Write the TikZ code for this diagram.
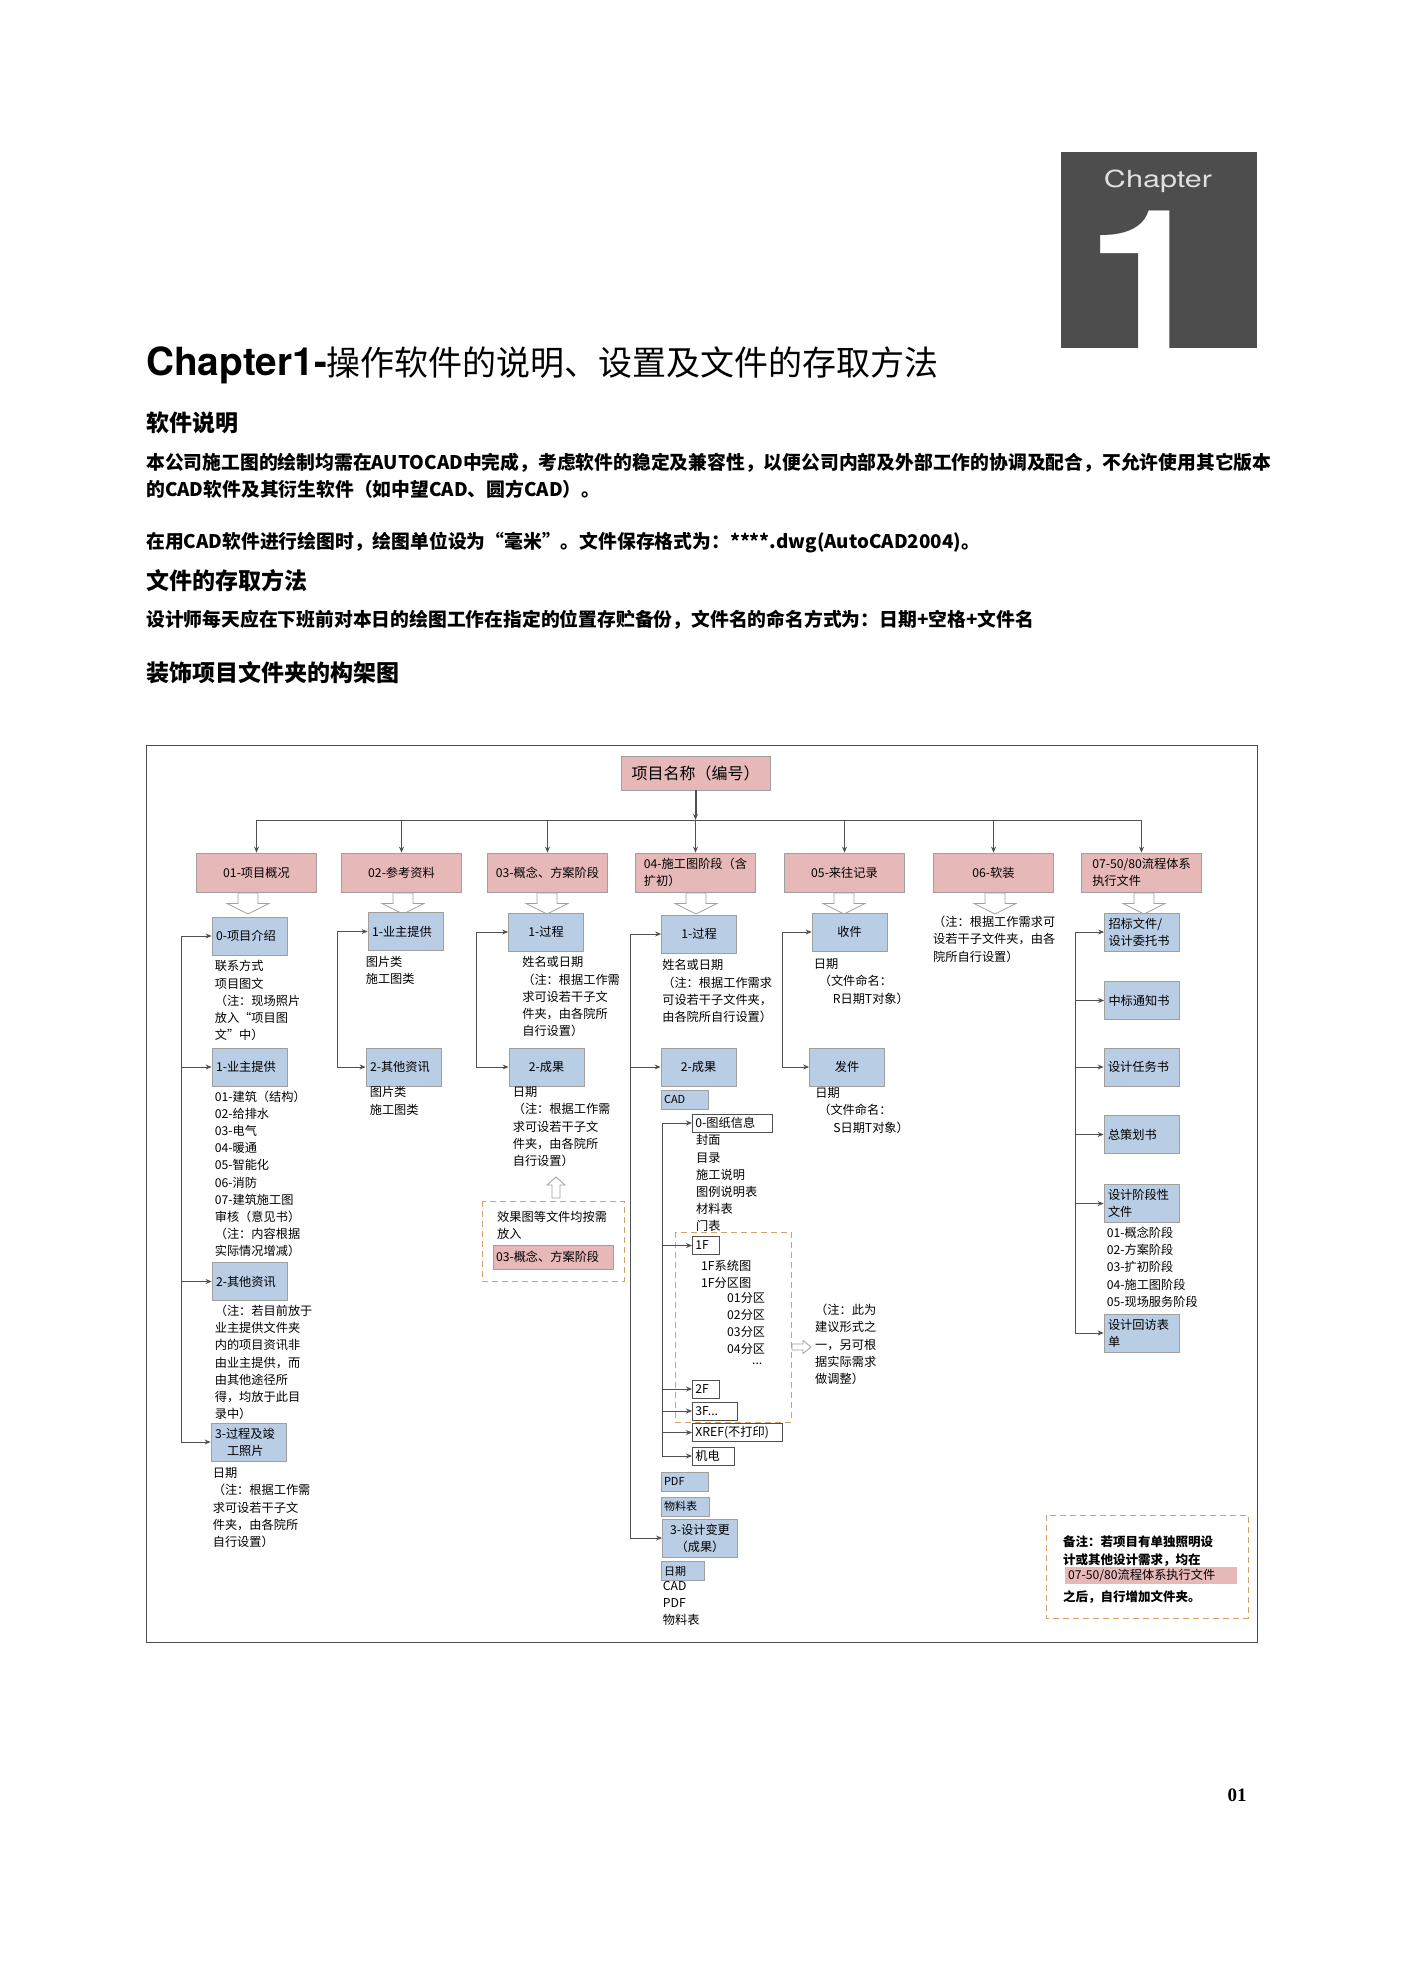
\documentclass[tikz,border=0pt]{standalone}
\usepackage{fontspec}
\usepackage{graphicx}
\setmainfont{Noto Sans CJK SC}
\newfontfamily\chaptersans{TeX Gyre Heros}
\newfontfamily\pagenumserif{Liberation Serif}
\usepackage{tikz}
\usetikzlibrary{positioning,arrows.meta,calc}
\definecolor{chaptergray}{RGB}{77,77,77}
\definecolor{folderpink}{RGB}{230,185,184}
\definecolor{folderblue}{RGB}{185,205,229}
\definecolor{edgegray}{RGB}{160,160,160}
\definecolor{linkgray}{RGB}{80,80,80}
\definecolor{notetan}{RGB}{214,160,102}
\colorlet{framegray}{black!70}
\newcommand\dgmfont{\fontsize{12.2}{17.2}\selectfont}
\newcommand\tagfont{\fontsize{11}{13}\selectfont}
\newcommand\headfont{\bfseries\fontsize{23}{26}\selectfont}
\newcommand\bodyfont{\bfseries\fontsize{18.8}{27}\selectfont}
\begin{document}
\begin{tikzpicture}[x=1pt,y=-1pt,every node/.style={font=\dgmfont,inner sep=0pt},
  topbox/.style={fill=folderpink,draw=edgegray,line width=.8pt,minimum width=120pt,minimum height=39pt},
  bluebox/.style={fill=folderblue,draw=edgegray,line width=.8pt,minimum width=75pt,minimum height=38pt},
  leftbox/.style={bluebox,text width=67pt,align=left},
  tagbox/.style={fill=folderblue,draw=edgegray,line width=.6pt,minimum height=19pt,inner xsep=3pt,text width=#1,align=left,font=\tagfont},
  filebox/.style={fill=white,draw=linkgray,line width=.8pt,minimum height=18pt,inner xsep=3pt,text width=#1,align=left,anchor=west},
  memo/.style={align=left},
  wire/.style={draw=linkgray,line width=1pt},
  link/.style={wire,-{Stealth[length=6pt,width=5pt]}},
  hollowline/.style={draw=edgegray,fill=white,line width=.8pt},
  blockdown/.pic={\path[hollowline] (-10,-10.5) -- (10,-10.5) -- (10,0) -- (21,0) -- (0,10.5) -- (-21,0) -- (-10,0) -- cycle;},
  blockup/.pic={\path[hollowline] (-4,10.5) -- (4,10.5) -- (4,-2.5) -- (9,-2.5) -- (0,-10.5) -- (-9,-2.5) -- (-4,-2.5) -- cycle;},
  blockright/.pic={\path[hollowline] (-9.5,-3) -- (1.5,-3) -- (1.5,-6.5) -- (9.5,0) -- (1.5,6.5) -- (1.5,3) -- (-9.5,3) -- cycle;},
  dashbox/.style={draw=notetan,line width=1pt,dash pattern=on 6pt off 4pt}]
  \useasboundingbox (0,0) rectangle (1403,1985);
  % page header
  \node[fill=chaptergray,minimum width=196pt,minimum height=196pt] (chapbox) at (1159,250) {};
  \node[font=\chaptersans\fontsize{23.5}{26}\selectfont,text=white!88!black] (chapword) at (1158,181) {\scalebox{1.3}[1]{Chapter}};
  \node[font=\chaptersans\bfseries\fontsize{194}{194}\selectfont,text=white,anchor=base] (chapnum) at (1148,348) {\scalebox{1.15}[1]{1}};
  \node[anchor=base west] (title) at (146,375) {{\chaptersans\bfseries\fontsize{38.8}{40}\selectfont Chapter1-}{\fontsize{34}{36}\selectfont 操作软件的说明、设置及文件的存取方法}};
  \node[font=\headfont,anchor=base west] (softhead) at (146,431) {软件说明};
  \node[font=\bodyfont,align=left,anchor=north west] (softtext) at (146,452.5) {本公司施工图的绘制均需在AUTOCAD中完成，考虑软件的稳定及兼容性，以便公司内部及外部工作的协调及配合，不允许使用其它版本\\的CAD软件及其衍生软件（如中望CAD、圆方CAD）。};
  \node[font=\bodyfont,anchor=base west] (unittext) at (146,548) {在用CAD软件进行绘图时，绘图单位设为“毫米”。文件保存格式为：****.dwg(AutoCAD2004)。};
  \node[font=\headfont,anchor=base west] (savehead) at (146,589) {文件的存取方法};
  \node[font=\bodyfont,anchor=base west] (savetext) at (146,626) {设计师每天应在下班前对本日的绘图工作在指定的位置存贮备份，文件名的命名方式为：日期+空格+文件名};
  \node[font=\headfont,anchor=base west] (treehead) at (146,681) {装饰项目文件夹的构架图};
  \node[font=\pagenumserif\bfseries\fontsize{19}{20}\selectfont,anchor=base] (pagenum) at (1237,1801) {01};
  % diagram frame
  \draw[framegray,line width=1pt] (146,745) rectangle (1257,1642);
  \node[fill=folderpink,draw=edgegray,line width=.8pt,minimum width=149pt,minimum height=34pt,font=\fontsize{16}{18}\selectfont] (root) at (695.5,773) {项目名称（编号）};
  \coordinate (bus) at (0,820);
  % first level folders
  \node[topbox] (p01) at (256.5,872.5) {01-项目概况};
  \node[topbox] (p02) at (401.5,872.5) {02-参考资料};
  \node[topbox] (p03) at (547.5,872.5) {03-概念、方案阶段};
  \node[topbox,align=left] (p04) at (695.5,872.5) {04-施工图阶段（含\\扩初）};
  \node[topbox] (p05) at (844.5,872.5) {05-来往记录};
  \node[topbox] (p06) at (993.5,872.5) {06-软装};
  \node[topbox,align=left] (p07) at (1141.5,872.5) {07-50/80流程体系\\执行文件};
  \pic (h01) at (248,903.5) {blockdown};
  \pic (h02) at (403,903.5) {blockdown};
  \pic (h03) at (547,903.5) {blockdown};
  \pic (h04) at (696,903.5) {blockdown};
  \pic (h05) at (844,903.5) {blockdown};
  \pic (h06) at (995,903.5) {blockdown};
  \pic (h07) at (1144,903.5) {blockdown};
  % 01
  \node[leftbox] (intro) at (249.5,936) {0-项目介绍};
  \node[memo,below right=5pt and 3pt of intro.south west] (introtext) {联系方式\\项目图文\\（注：现场照片\\放入“项目图\\文”中）};
  \node[leftbox] (own1) at (249.5,1067) {1-业主提供};
  \node[memo,below right=4pt and 3pt of own1.south west] (own1text) {01-建筑（结构）\\02-给排水\\03-电气\\04-暖通\\05-智能化\\06-消防\\07-建筑施工图\\审核（意见书）\\（注：内容根据\\实际情况增减）};
  \node[leftbox] (other1) at (249.5,1281.5) {2-其他资讯};
  \node[memo,below right=4pt and 3pt of other1.south west] (other1text) {（注：若目前放于\\业主提供文件夹\\内的项目资讯非\\由业主提供，而\\由其他途径所\\得，均放于此目\\录中）};
  \node[leftbox] (photo) at (248.5,1442) {3-过程及竣\\\hspace*{12pt}工照片};
  \node[memo,below right=6pt and 2pt of photo.south west] (phototext) {日期\\（注：根据工作需\\求可设若干子文\\件夹，由各院所\\自行设置）};
  % 02
  \node[leftbox] (own2) at (405.5,931.5) {1-业主提供};
  \node[memo,below right=5pt and -2pt of own2.south west] (own2text) {图片类\\施工图类};
  \node[leftbox] (other2) at (403.5,1067) {2-其他资讯};
  \node[memo,below right=0pt and 4pt of other2.south west] (other2text) {图片类\\施工图类};
  % 03
  \node[bluebox] (proc3) at (546,932) {1-过程};
  \node[memo,below right=5pt and 14pt of proc3.south west] (proc3text) {姓名或日期\\（注：根据工作需\\求可设若干子文\\件夹，由各院所\\自行设置）};
  \node[bluebox] (res3) at (546.5,1067) {2-成果};
  \node[memo,below right=0pt and 4pt of res3.south west] (res3text) {日期\\（注：根据工作需\\求可设若干子文\\件夹，由各院所\\自行设置）};
  \pic (hup) at (556,1187.5) {blockup};
  \draw[dashbox] (482,1201) rectangle (624,1281);
  \node[memo,anchor=north west] (effecttext) at (497,1211) {效果图等文件均按需\\放入};
  \node[fill=folderpink,draw=edgegray,line width=.6pt,minimum width=120pt,minimum height=24pt,text width=114pt,align=left] (effectpink) at (553,1257) {03-概念、方案阶段};
  % 04
  \node[bluebox] (proc4) at (699,934) {1-过程};
  \node[memo,below right=6pt and 1pt of proc4.south west] (proc4text) {姓名或日期\\（注：根据工作需求\\可设若干子文件夹，\\由各院所自行设置）};
  \node[bluebox] (res4) at (698.5,1067) {2-成果};
  \node[tagbox=41pt] (cad) at (684.5,1099.5) {CAD};
  \node[filebox=74pt] (info) at (692,1123) {0-图纸信息};
  \node[memo,below right=2pt and 4pt of info.south west] (infotext) {封面\\目录\\施工说明\\图例说明表\\材料表\\门表};
  \draw[dashbox] (675,1232) rectangle (791,1422);
  \node[filebox=21pt] (fl1) at (692,1245.5) {1F};
  \node[memo,below right=5pt and 9pt of fl1.south west] (fl1text) {1F系统图\\1F分区图};
  \node[memo,anchor=north west] (zonetext) at (727,1292) {01分区\\02分区\\03分区\\04分区};
  \node[anchor=north west] (zonedots) at (752,1363) {...};
  \node[filebox=21pt] (fl2) at (692,1389) {2F};
  \node[filebox=39pt] (fl3) at (692,1411) {3F...};
  \node[filebox=84pt] (xref) at (692,1432.5) {XREF(不打印)};
  \node[filebox=36pt] (mep) at (692,1456) {机电};
  \pic (hright) at (801.5,1347) {blockright};
  \node[memo,anchor=north west] (floornote) at (815,1304) {（注：此为\\建议形式之\\一，另可根\\据实际需求\\做调整）};
  \node[tagbox=41pt] (pdf) at (684.5,1481.5) {PDF};
  \node[tagbox=42pt] (bom) at (685,1506.5) {物料表};
  \node[bluebox,align=center] (change4) at (700,1538) {3-设计变更\\（成果）};
  \node[tagbox=37pt] (date4) at (682.5,1571) {日期};
  \node[memo,below right=0pt and 2pt of date4.south west] (changetext) {CAD\\PDF\\物料表};
  % 05
  \node[bluebox] (recv) at (849.5,932) {收件};
  \node[memo,below right=7pt and 2pt of recv.south west] (recvtext) {日期\\\hspace*{5pt}（文件命名：\\\hspace*{19pt}R日期T对象）};
  \node[bluebox] (send) at (847,1067) {发件};
  \node[memo,below right=1pt and 6pt of send.south west] (sendtext) {日期\\\hspace*{3pt}（文件命名：\\\hspace*{18pt}S日期T对象）};
  % 06
  \node[memo,anchor=north west] (softnote) at (933,916) {（注：根据工作需求可\\设若干子文件夹，由各\\院所自行设置）};
  % 07
  \node[leftbox] (bid) at (1142,932) {招标文件/\\设计委托书};
  \node[leftbox] (award) at (1142,1000.5) {中标通知书};
  \node[leftbox] (task) at (1141.5,1067) {设计任务书};
  \node[leftbox] (plan) at (1141.5,1134.5) {总策划书};
  \node[leftbox] (stage) at (1141.5,1203.5) {设计阶段性\\文件};
  \node[memo,below right=4pt and 3pt of stage.south west] (stagetext) {01-概念阶段\\02-方案阶段\\03-扩初阶段\\04-施工图阶段\\05-现场服务阶段};
  \node[leftbox] (visit) at (1141.5,1333) {设计回访表\\单};
  % remark
  \draw[dashbox] (1046,1515) rectangle (1248,1618);
  \node[memo,anchor=north west,font=\bfseries\fontsize{12.5}{17.2}\selectfont] (remarktop) at (1063,1536) {备注：若项目有单独照明设\\计或其他设计需求，均在};
  \node[fill=folderpink,minimum width=172pt,minimum height=17pt,text width=166pt,align=left] (remarkpink) at (1151,1575.5) {07-50/80流程体系执行文件};
  \node[anchor=north west,font=\bfseries\fontsize{12.5}{17.2}\selectfont] (remarkend) at (1063,1590) {之后，自行增加文件夹。};
  % connectors
  \draw[link,line width=2pt] (root.south) -- (root.south |- bus);
  \draw[wire] (p01.north |- bus) -- (p07.north |- bus);
  \foreach \p in {p01,p02,p03,p04,p05,p06,p07}
    \draw[link] (\p.north |- bus) -- (\p.north);
  \coordinate (c1) at (181,936);
  \draw[wire] (c1) -- (c1 |- photo.west);
  \foreach \n in {intro,own1,other1,photo}
    \draw[link] (c1 |- \n.west) -- (\n.west);
  \coordinate (c2) at (337,931.5);
  \draw[wire] (c2) -- (c2 |- other2.west);
  \foreach \n in {own2,other2}
    \draw[link] (c2 |- \n.west) -- (\n.west);
  \coordinate (c3) at (476,932);
  \draw[wire] (c3) -- (c3 |- res3.west);
  \foreach \n in {proc3,res3}
    \draw[link] (c3 |- \n.west) -- (\n.west);
  \coordinate (c4) at (630,934);
  \draw[wire] (c4) -- (c4 |- change4.west);
  \foreach \n in {proc4,res4,change4}
    \draw[link] (c4 |- \n.west) -- (\n.west);
  \coordinate (c4b) at (662,1123);
  \draw[wire] (c4b) -- (c4b |- mep.west);
  \foreach \n in {info,fl1,fl2,fl3,xref,mep}
    \draw[link] (c4b |- \n.west) -- (\n.west);
  \coordinate (c5) at (782,932);
  \draw[wire] (c5) -- (c5 |- send.west);
  \foreach \n in {recv,send}
    \draw[link] (c5 |- \n.west) -- (\n.west);
  \coordinate (c7) at (1075,932);
  \draw[wire] (c7) -- (c7 |- visit.west);
  \foreach \n in {bid,award,task,plan,stage,visit}
    \draw[link] (c7 |- \n.west) -- (\n.west);
\end{tikzpicture}
\end{document}
